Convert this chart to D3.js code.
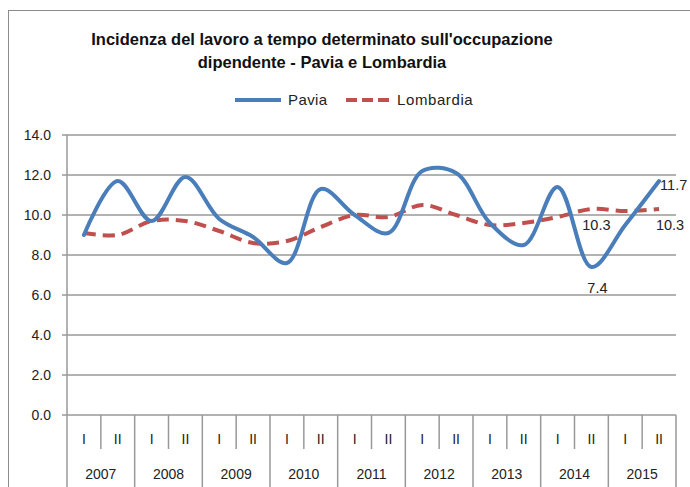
<!DOCTYPE html>
<html>
<head>
<meta charset="utf-8">
<script src="https://cdn.jsdelivr.net/npm/d3@7"></script>
<style>
  body { margin: 0; background: #fff; }
  svg { display: block; font-family: "Liberation Sans", Arial, sans-serif; }
</style>
</head>
<body>
<div id="chart"></div>
<script>
const years = ["2007", "2008", "2009", "2010", "2011", "2012", "2013", "2014", "2015"];
const semesters = ["I", "II"];
const pavia = [9.0, 11.7, 9.7, 11.9, 9.8, 8.9, 7.6, 11.3, 10.0, 9.1, 12.2, 12.1, 9.6, 8.5, 11.4, 7.4, 9.5, 11.7];
const lombardia = [9.1, 9.0, 9.7, 9.7, 9.2, 8.6, 8.7, 9.4, 10.0, 9.9, 10.5, 10.0, 9.5, 9.6, 9.9, 10.3, 10.2, 10.3];
const yTicks = [0, 2, 4, 6, 8, 10, 12, 14];

const w = 690, h = 487;
const margin = { left: 67, right: 14, top: 135, bottom: 72 };

const svg = d3.select("#chart").append("svg").attr("width", w).attr("height", h);

// chart frame
svg.append("rect")
  .attr("x", 8.5).attr("y", 10.5)
  .attr("width", 700).attr("height", 500)
  .attr("fill", "none").attr("stroke", "#8c8c8c").attr("stroke-width", 1);

const cats = years.flatMap((y) => semesters.map((s) => y + "-" + s));

const x = d3.scaleBand().domain(cats).range([margin.left, w - margin.right]);
const xYear = d3.scaleBand().domain(years).range([margin.left, w - margin.right]);
const y = d3.scaleLinear().domain([0, 14]).range([h - margin.bottom, margin.top]);

// gridlines
svg.append("g")
  .selectAll("line")
  .data(yTicks)
  .join("line")
  .attr("x1", margin.left - 5)
  .attr("x2", w - margin.right)
  .attr("y1", (d) => y(d))
  .attr("y2", (d) => y(d))
  .attr("stroke", "#999")
  .attr("stroke-width", 1.5);

// y axis line
svg.append("line")
  .attr("x1", margin.left).attr("x2", margin.left)
  .attr("y1", y(14)).attr("y2", h)
  .attr("stroke", "#999").attr("stroke-width", 1.5);

svg.append("g")
  .selectAll("text")
  .data(yTicks)
  .join("text")
  .attr("x", 51)
  .attr("y", (d) => y(d))
  .attr("dy", "0.35em")
  .attr("text-anchor", "end")
  .attr("font-size", 14)
  .attr("fill", "#222")
  .text((d) => d.toFixed(1));

// category axis: semester separators and year separators
const semLines = cats.filter((c, i) => i % 2 === 1).map((c) => x(c));
svg.append("g")
  .selectAll("line")
  .data(semLines)
  .join("line")
  .attr("x1", (d) => d).attr("x2", (d) => d)
  .attr("y1", y(0)).attr("y2", y(0) + 34)
  .attr("stroke", "#999").attr("stroke-width", 1.5);

svg.append("g")
  .selectAll("line")
  .data(years.slice(1).map((yr) => xYear(yr)).concat([w - margin.right]))
  .join("line")
  .attr("x1", (d) => d).attr("x2", (d) => d)
  .attr("y1", y(0)).attr("y2", h)
  .attr("stroke", "#999").attr("stroke-width", 1.5);

svg.append("g")
  .selectAll("text")
  .data(cats)
  .join("text")
  .attr("x", (d) => x(d) + x.bandwidth() / 2)
  .attr("y", y(0) + 24)
  .attr("dy", "0.35em")
  .attr("text-anchor", "middle")
  .attr("font-size", 14)
  .attr("fill", "#222")
  .text((d) => d.split("-")[1]);

svg.append("g")
  .selectAll("text")
  .data(years)
  .join("text")
  .attr("x", (d) => xYear(d) + xYear.bandwidth() / 2)
  .attr("y", y(0) + 59)
  .attr("dy", "0.35em")
  .attr("text-anchor", "middle")
  .attr("font-size", 14)
  .attr("fill", "#222")
  .text((d) => d);

// lines
const cx = (i) => x(cats[i]) + x.bandwidth() / 2;
const line = d3.line()
  .x((d, i) => cx(i))
  .y((d) => y(d))
  .curve(d3.curveCatmullRom.alpha(0.5));

svg.append("path")
  .datum(lombardia)
  .attr("d", line)
  .attr("fill", "none")
  .attr("stroke", "#c0504d")
  .attr("stroke-width", 4)
  .attr("stroke-dasharray", "12,7");

svg.append("path")
  .datum(pavia)
  .attr("d", line)
  .attr("fill", "none")
  .attr("stroke", "#4a7ebb")
  .attr("stroke-width", 4)
  .attr("stroke-linecap", "round");

// data labels
const labels = [
  { i: 15, v: pavia[15], dx: 6, dy: 21, anchor: "middle" },
  { i: 15, v: lombardia[15], dx: 5, dy: 16, anchor: "middle" },
  { i: 17, v: pavia[17], dx: 1, dy: 4, anchor: "start" },
  { i: 17, v: lombardia[17], dx: 11, dy: 16, anchor: "middle" },
];
svg.append("g")
  .selectAll("text")
  .data(labels)
  .join("text")
  .attr("x", (d) => cx(d.i) + d.dx)
  .attr("y", (d) => y(d.v) + d.dy)
  .attr("dy", "0.35em")
  .attr("text-anchor", (d) => d.anchor)
  .attr("font-size", 14.5)
  .attr("fill", "#222")
  .text((d) => d.v.toFixed(1));

// title
const title = svg.append("text")
  .attr("text-anchor", "middle")
  .attr("font-size", 16.5)
  .attr("font-weight", "bold")
  .attr("fill", "#111");
title.append("tspan").attr("x", 322).attr("y", 45)
  .text("Incidenza del lavoro a tempo determinato sull'occupazione");
title.append("tspan").attr("x", 322).attr("y", 68)
  .text("dipendente - Pavia e Lombardia");

// legend
const lg = svg.append("g");
lg.append("line").attr("x1", 235).attr("x2", 281).attr("y1", 100).attr("y2", 100)
  .attr("stroke", "#4a7ebb").attr("stroke-width", 4);
lg.append("text").attr("x", 288).attr("y", 100).attr("dy", "0.35em")
  .attr("font-size", 15).attr("letter-spacing", 0.4).attr("fill", "#222").text("Pavia");
lg.append("line").attr("x1", 346).attr("x2", 389).attr("y1", 100).attr("y2", 100)
  .attr("stroke", "#c0504d").attr("stroke-width", 4).attr("stroke-dasharray", "11,5");
lg.append("text").attr("x", 397).attr("y", 100).attr("dy", "0.35em")
  .attr("font-size", 15).attr("letter-spacing", 0.6).attr("fill", "#222").text("Lombardia");
</script>
</body>
</html>
